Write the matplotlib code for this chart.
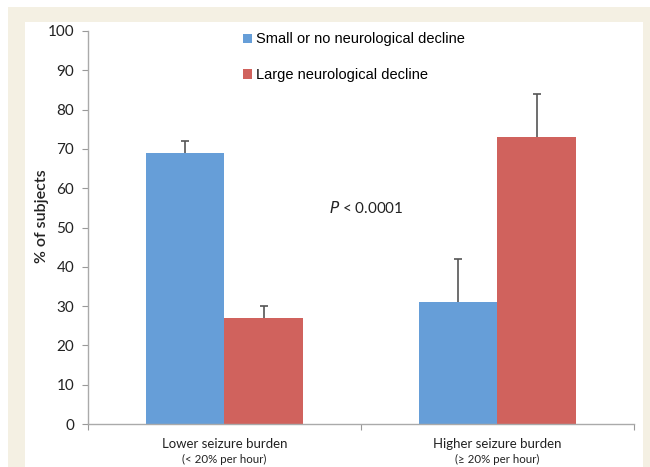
import numpy as np
import matplotlib
matplotlib.use("Agg")
import matplotlib.pyplot as plt
from matplotlib.patches import Rectangle

categories = ["Lower seizure burden", "Higher seizure burden"]
subtitles = ["(< 20% per hour)", "(\u2265 20% per hour)"]
series = ["Small or no neurological decline", "Large neurological decline"]
small_decline = [69, 31]
small_err = [3, 11]
large_decline = [27, 73]
large_err = [3, 11]

blue = "#669ed8"
red = "#d0625d"
cream = "#f4f0e3"

W, H = 650, 467
fig = plt.figure(figsize=(W / 100, H / 100), dpi=100)
fig.patch.set_facecolor("white")
# cream frame and white panel
fig.add_artist(Rectangle((8 / W, 0), 1, 1 - 7 / H, transform=fig.transFigure,
                         facecolor=cream, edgecolor="none", zorder=-3))
fig.add_artist(Rectangle((25 / W, 0), (643 - 25) / W, 1 - 22 / H,
                         transform=fig.transFigure, facecolor="white",
                         edgecolor="none", zorder=-2))

ax = fig.add_axes([88 / W, 1 - 424 / H, (634 - 88) / W, (424 - 31) / H])
ax.set_facecolor("none")

x = np.arange(len(categories))
w = 0.286
ax.bar(x - w / 2, small_decline, w, color=blue, label=series[0], zorder=2)
ax.bar(x + w / 2, large_decline, w, color=red, label=series[1], zorder=2)

# upper-only error bars
for xs, vals, errs in [(x - w / 2, small_decline, small_err),
                       (x + w / 2, large_decline, large_err)]:
    tops = np.array(vals) + np.array(errs)
    ax.vlines(xs, vals, tops, color="#555555", lw=1.2, zorder=3)
    ax.plot(xs, tops, ls="none", marker="_", ms=6, mew=1.2, color="#555555",
            zorder=3)

ax.set_xlim(-0.5, 1.5)
ax.set_ylim(0, 100)
ax.set_yticks(range(0, 101, 10))
ax.set_yticklabels([str(v) for v in range(0, 101, 10)], family="Lato",
                   fontsize=11, color="#222222")
ax.set_xticks([-0.5, 0.5, 1.5])
ax.set_xticklabels([])
ax.tick_params(axis="y", length=4, width=0.8, color="#999999", pad=6)
ax.tick_params(axis="x", length=4, width=0.8, color="#999999")
for s in ["top", "right"]:
    ax.spines[s].set_visible(False)
for s in ["left", "bottom"]:
    ax.spines[s].set_color("#aaaaaa")
    ax.spines[s].set_linewidth(1.0)

for i in x:
    ax.text(i, -3.6, categories[i], ha="center", va="top", family="Lato",
            fontsize=9.5, color="#222222")
    ax.text(i, -7.6, subtitles[i], ha="center", va="top", family="Lato",
            fontsize=8.3, color="#222222")

ax.set_ylabel("% of subjects", family="Lato", fontsize=11.5, color="#222222",
              fontweight="semibold", labelpad=2)
ax.yaxis.set_label_coords(-0.072, 0.53)

ax.text(0.52, 55, "$P$ < 0.0001", ha="center", va="center", family="Lato",
        fontsize=11, color="#222222")

leg = ax.legend(loc="upper left", bbox_to_anchor=(0.26, 1.03), frameon=False,
                prop={"family": "Liberation Sans", "size": 10.5},
                handlelength=0.6, handleheight=0.6, handletextpad=0.3,
                labelspacing=1.5)

fig.savefig("out.png", dpi=100)
